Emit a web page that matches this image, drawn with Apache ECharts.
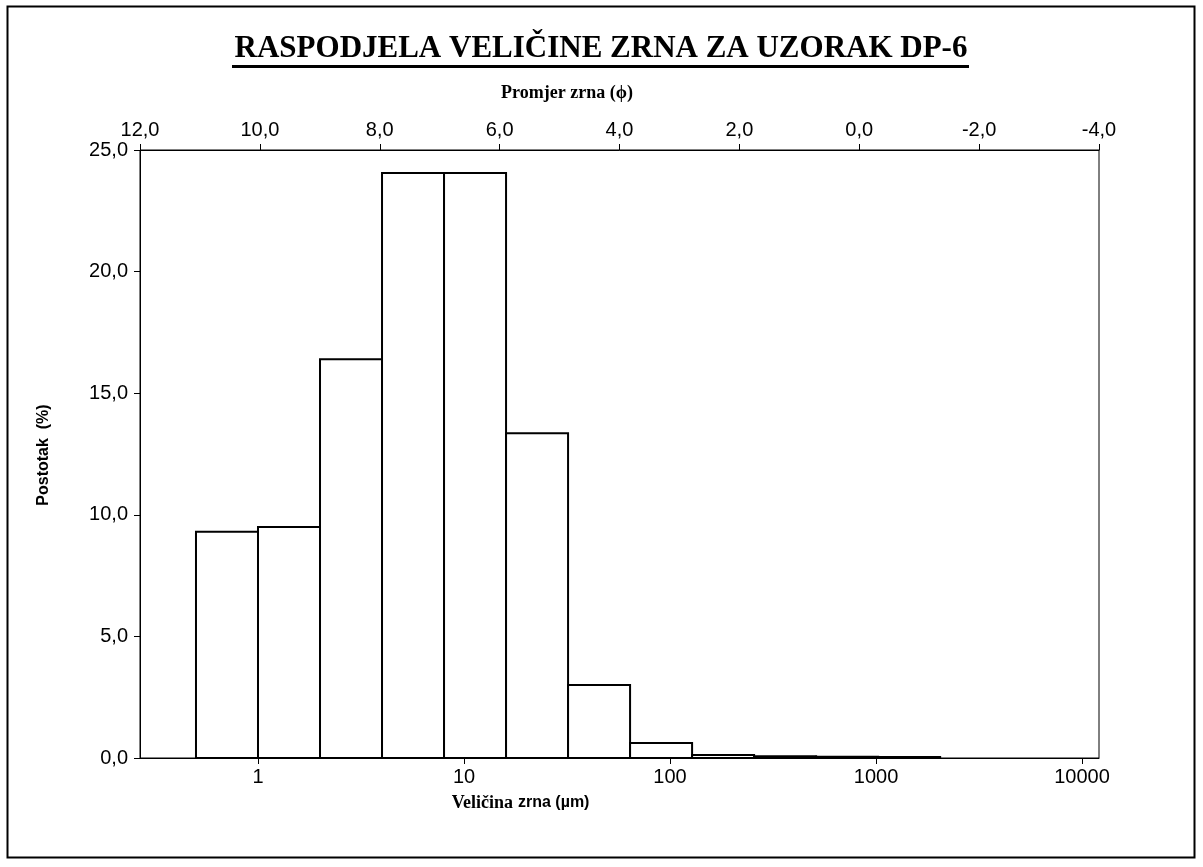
<!DOCTYPE html>
<html>
<head>
<meta charset="utf-8">
<script src="https://cdn.jsdelivr.net/npm/echarts@6/dist/echarts.min.js"></script>
<style>
html, body { margin: 0; background: #fff; }
#chart { width: 1203px; height: 867px; }
</style>
</head>
<body>
<div id="chart"></div>
<script>
// granice razreda (µm) i postotak po razredu
var binEdges = [0.5, 1, 2, 4, 8, 16, 32, 64, 128, 256, 512, 1024, 2048];
var percent = [9.3, 9.5, 16.4, 24.05, 24.05, 13.35, 3.0, 0.62, 0.12, 0.07, 0.05, 0.04];
var sizeTicks = [1, 10, 100, 1000, 10000];
var phiMin = -4, phiMax = 12, phiStep = 2;

var barData = [];
for (var i = 0; i < percent.length; i++) {
    barData.push([Math.log10(binEdges[i]), Math.log10(binEdges[i + 1]), percent[i]]);
}
var logTicks = sizeTicks.map(function (v) { return Math.log10(v); });

function comma(v) { return v.toFixed(1).replace('.', ','); }

var chart = echarts.init(document.getElementById('chart'));
var option = {
    animation: false,
    backgroundColor: '#fff',
    grid: {
        left: 140, right: 104, top: 150, bottom: 109,
        show: true, borderColor: '#000', borderWidth: 1
    },
    xAxis: [{
        type: 'value',
        position: 'bottom',
        min: -0.5728,
        max: 4.0825,
        splitLine: { show: false },
        axisLine: { onZero: false, lineStyle: { color: '#000', width: 1 } },
        axisTick: { customValues: logTicks, length: 6, lineStyle: { color: '#000' } },
        axisLabel: {
            customValues: logTicks,
            formatter: function (v) { return String(Math.round(Math.pow(10, v))); },
            color: '#000', fontFamily: 'Liberation Sans', fontSize: 20, margin: 9
        }
    }, {
        type: 'value',
        position: 'top',
        inverse: true,
        min: phiMin,
        max: phiMax,
        interval: phiStep,
        splitLine: { show: false },
        axisLine: { onZero: false, lineStyle: { color: '#000', width: 1 } },
        axisTick: { length: 6, lineStyle: { color: '#000' } },
        axisLabel: {
            formatter: comma,
            color: '#000', fontFamily: 'Liberation Sans', fontSize: 20, margin: 10
        }
    }],
    yAxis: {
        type: 'value',
        min: 0,
        max: 25,
        interval: 5,
        splitLine: { show: false },
        axisLine: { show: true, onZero: false, lineStyle: { color: '#000', width: 1 } },
        axisTick: { show: true, length: 6, lineStyle: { color: '#000' } },
        axisLabel: {
            formatter: comma,
            color: '#000', fontFamily: 'Liberation Sans', fontSize: 20, margin: 12
        }
    },
    series: [{
        type: 'custom',
        xAxisIndex: 0,
        data: barData,
        renderItem: function (params, api) {
            var p0 = api.coord([api.value(0), api.value(2)]);
            var p1 = api.coord([api.value(1), 0]);
            return {
                type: 'rect',
                shape: { x: p0[0], y: p0[1], width: p1[0] - p0[0], height: p1[1] - p0[1] },
                style: { fill: '#fff', stroke: '#000', lineWidth: 2 }
            };
        }
    }],
    graphic: [
        { type: 'rect', shape: { x: 7.5, y: 6.5, width: 1187, height: 851 },
          style: { fill: null, stroke: '#000', lineWidth: 2 }, silent: true },
        { type: 'text', x: 601, y: 49,
          style: { text: 'RASPODJELA VELIČINE ZRNA ZA UZORAK DP-6', align: 'center', verticalAlign: 'middle',
                   fontFamily: 'Liberation Serif', fontWeight: 'bold', fontSize: 31, fill: '#000' } },
        { type: 'rect', shape: { x: 232, y: 65, width: 737, height: 3 }, style: { fill: '#000' } },
        { type: 'text', x: 567, y: 93,
          style: { text: 'Promjer zrna (ϕ)', align: 'center', verticalAlign: 'middle',
                   fontFamily: 'Liberation Serif', fontWeight: 'bold', fontSize: 18, fill: '#000' } },
        { type: 'text', x: 513, y: 803,
          style: { text: 'Veličina', align: 'right', verticalAlign: 'middle',
                   fontFamily: 'Liberation Serif', fontWeight: 'bold', fontSize: 18, fill: '#000' } },
        { type: 'text', x: 518, y: 803,
          style: { text: 'zrna (µm)', align: 'left', verticalAlign: 'middle',
                   fontFamily: 'Liberation Sans', fontWeight: 'bold', fontSize: 16, fill: '#000' } },
        { type: 'text', x: 44, y: 455, rotation: Math.PI / 2,
          style: { text: 'Postotak  (%)', align: 'center', verticalAlign: 'middle',
                   fontFamily: 'Liberation Sans', fontWeight: 'bold', fontSize: 16, fill: '#000' } }
    ]
};
chart.setOption(option);
</script>
</body>
</html>
